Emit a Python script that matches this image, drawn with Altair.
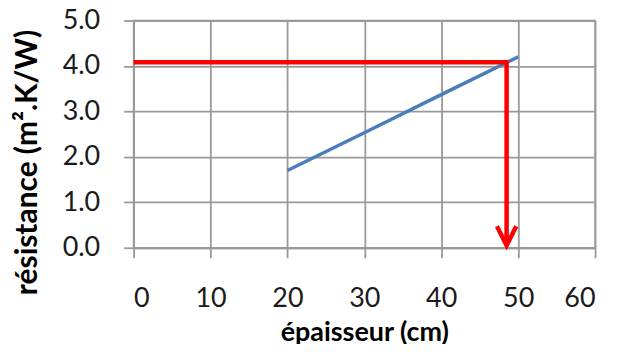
import altair as alt
import pandas as pd

# Data
thickness = [20, 30, 40, 50]
resistance = [1.70, 2.53, 3.37, 4.20]

target_r = 4.08     # resistance read at the horizontal red line
target_e = 48.5     # thickness where the red arrow drops
arrow_tip = 0.05

x_ticks = [0, 10, 20, 30, 40, 50, 60]
y_ticks = [0, 1, 2, 3, 4, 5]

blue = pd.DataFrame({"e": thickness, "r": resistance})
red = pd.DataFrame({
    "e": [0, target_e, target_e],
    "r": [target_r, target_r, arrow_tip],
    "o": [0, 1, 2],
})
tip = pd.DataFrame({"e": [target_e], "r": [arrow_tip]})

FONT = "Lato"
GRID = "#999999"

x_scale = alt.Scale(domain=[0, 60], nice=False, zero=False)
y_scale = alt.Scale(domain=[0, 5], nice=False, zero=False)

x_axis = alt.Axis(
    values=x_ticks, title="épaisseur (cm)", format="d",
    tickSize=10, labelPadding=28, titleY=93, titleBaseline="alphabetic",
    titleFontSize=27,
)
y_axis = alt.Axis(
    values=y_ticks, title="résistance (m².K/W)", format=".1f",
    tickSize=10, labelPadding=24, titleX=-106, titleY=142,
    titleBaseline="middle", titleAngle=-90, titleFontSize=30,
)

line_blue = alt.Chart(blue).mark_line(color="#4a7ebb", strokeWidth=3.5).encode(
    x=alt.X("e:Q", scale=x_scale, axis=x_axis),
    y=alt.Y("r:Q", scale=y_scale, axis=y_axis),
)

line_red = alt.Chart(red).mark_line(color="#ff0000", strokeWidth=4.5, strokeJoin="miter").encode(
    x=alt.X("e:Q", scale=x_scale),
    y=alt.Y("r:Q", scale=y_scale),
    order="o:Q",
)

arrow = alt.Chart(tip).mark_point(
    shape="M-0.5,-1L0,0L0.5,-1", size=1500, filled=False,
    stroke="#ff0000", strokeWidth=4.5, opacity=1, strokeJoin="miter",
).encode(
    x=alt.X("e:Q", scale=x_scale),
    y=alt.Y("r:Q", scale=y_scale),
)

chart = alt.layer(line_blue, line_red, arrow).properties(
    width=463, height=228,
    padding={"left": 126, "top": 12, "right": 15, "bottom": 96},
    autosize=alt.AutoSizeParams(type="none"),
    background="white",
).configure_view(stroke=GRID, strokeWidth=1.5).configure_axis(
    grid=True, gridColor=GRID, gridWidth=1.8, gridOpacity=1,
    domainColor=GRID, domainWidth=1.8, tickColor=GRID, tickWidth=1.8,
    labelFont=FONT, labelFontSize=27, labelColor="#1a1a1a",
    titleFont=FONT, titleFontWeight="bold", titleColor="#000000",
)

chart.save("out.html", embed_options={"renderer": "svg", "actions": False})
